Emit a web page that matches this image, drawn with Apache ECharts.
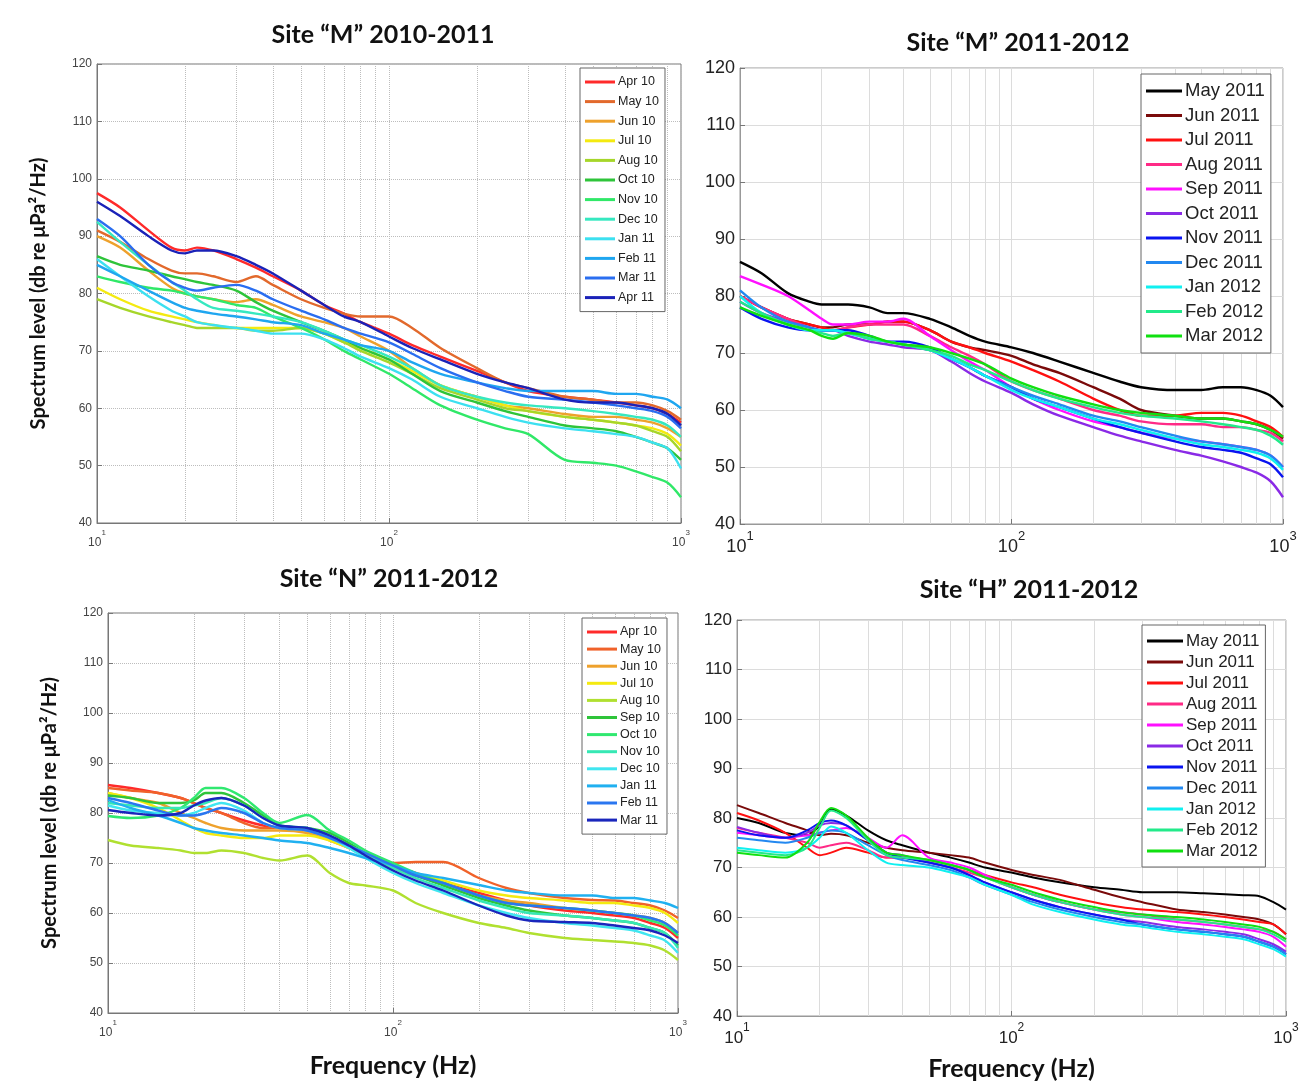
<!DOCTYPE html>
<html lang="en">
<head>
  <meta charset="UTF-8">
  <title>Spectrum levels by site</title>
  <style>
    html, body { margin: 0; padding: 0; background: #fff; }
    #myEcharts { width: 1311px; height: 1086px; }
  </style>
  <script src="https://cdn.jsdelivr.net/npm/echarts@6/dist/echarts.min.js"></script>
</head>
<body>
<div id="myEcharts"></div>

<script>
  // shared frequency grid (Hz) and y ticks
  var FREQ = [10, 12, 15, 18, 20, 22, 25, 30, 35, 40, 50, 60, 70, 80, 100, 120, 150, 200, 250, 300, 400, 500, 600, 700, 800, 900, 1000];
  var MINOR_FREQ = [20, 30, 40, 50, 60, 70, 80, 90, 200, 300, 400, 500, 600, 700, 800, 900];
  var Y_MIN = 40, Y_MAX = 120, Y_STEP = 10;

  // ---- Site "M" 2010-2011 ----
  var m1Names = ['Apr 10', 'May 10', 'Jun 10', 'Jul 10', 'Aug 10', 'Oct 10', 'Nov 10', 'Dec 10', 'Jan 11', 'Feb 11', 'Mar 11', 'Apr 11'];
  var m1Colors = ['#ff2a2a', '#e2692c', '#eea12c', '#f4ea10', '#a6d62a', '#2ec43a', '#30e868', '#36e8c0', '#3ce0f0', '#1fa6f0', '#2a6ef0', '#1a22b8'];
  var m1_apr10 = [97.5, 95, 91, 88, 87.5, 88, 87.5, 86, 84.5, 83, 80.5, 78, 76.5, 75, 73, 71, 69, 66.5, 64.5, 63, 62, 61.5, 61, 60.5, 60, 59, 57.5];
  var m1_may10 = [91, 89, 86, 84, 83.5, 83.5, 83, 82, 83, 81.5, 79, 77.5, 76.5, 76, 76, 74, 70.5, 67, 64.5, 63.5, 62, 61.5, 61, 61, 60.5, 59.5, 58];
  var m1_jun10 = [90, 88, 84, 81, 80, 79.5, 79, 78.5, 79, 78, 76, 75, 74, 72.5, 70, 67, 64, 62, 60.5, 60, 59, 58.5, 58.5, 58, 57.5, 56.5, 55];
  var m1_jul10 = [81, 79, 77, 76, 75.5, 75, 74.5, 74, 74, 74, 74, 73, 71.5, 70.5, 68.5, 66.5, 64, 62, 60.5, 59.5, 58.5, 58, 57.5, 57, 56.5, 55.5, 53.5];
  var m1_aug10 = [79, 77.5, 76, 75, 74.5, 74, 74, 74, 73.5, 73.5, 74, 73, 71.5, 70, 68, 66, 63.5, 61.5, 60, 59.5, 58.5, 58, 57.5, 57, 56, 55, 52.5];
  var m1_oct10 = [86.5, 85, 84, 83, 82.5, 82, 81.5, 80.5, 78.5, 77, 75, 73.5, 72, 70.5, 68.5, 66, 63, 61, 59.5, 58.5, 57, 56.5, 56, 55, 54, 53, 51];
  var m1_nov10 = [83, 82, 81, 80.5, 80, 79.5, 79, 78, 77.5, 76, 74, 72, 70, 68.5, 66, 63.5, 60.5, 58, 56.5, 55.5, 51, 50.5, 50, 49, 48, 47, 44.5];
  var m1_dec10 = [92.5, 89, 85, 82, 80.5, 79, 77.5, 77, 76.5, 76, 75, 73.5, 72, 71, 69, 67, 64, 62, 61, 60.5, 60, 59.5, 59, 58.5, 58, 57, 55];
  var m1_jan11 = [86, 83, 79.5, 77, 76, 75, 74.5, 74, 73.5, 73, 73, 72, 70.5, 69, 67, 65, 62, 60, 58.5, 57.5, 56.5, 56, 55.5, 55, 54, 53, 49.5];
  var m1_feb11 = [85, 83, 80.5, 78.5, 77.5, 77, 76.5, 76, 75.5, 75, 74.5, 73, 72, 71, 70, 68, 66, 64.5, 63.5, 63, 63, 63, 62.5, 62.5, 62, 61.5, 60];
  var m1_mar11 = [93, 90, 85, 82, 81, 80.5, 81, 81.5, 80.5, 79, 77, 75.5, 74, 73, 71.5, 69.5, 67, 64.5, 63, 62, 61.5, 61, 60.5, 60, 59.5, 58.5, 56.5];
  var m1_apr11 = [96, 93.5, 90, 87.5, 87, 87.5, 87.5, 86.5, 85, 83.5, 80.5, 78, 76, 75, 72.5, 70.5, 68.5, 66, 64.5, 63.5, 61.5, 61, 61, 60.5, 60, 59, 57];
  var m1Values = [m1_apr10, m1_may10, m1_jun10, m1_jul10, m1_aug10, m1_oct10, m1_nov10, m1_dec10, m1_jan11, m1_feb11, m1_mar11, m1_apr11];

  // ---- Site "M" 2011-2012 ----
  var m2Names = ['May 2011', 'Jun 2011', 'Jul 2011', 'Aug 2011', 'Sep 2011', 'Oct 2011', 'Nov 2011', 'Dec 2011', 'Jan 2012', 'Feb 2012', 'Mar 2012'];
  var m2Colors = ['#000000', '#7a0a0a', '#ff1010', '#ff2a86', '#ff10ff', '#8a2ae6', '#0a14f0', '#2288f0', '#10f0f0', '#22ea8a', '#10e010'];
  var m2_may11 = [86, 84, 80.5, 79, 78.5, 78.5, 78.5, 78, 77, 77, 76, 74.5, 73, 72, 71, 70, 68.5, 66.5, 65, 64, 63.5, 63.5, 64, 64, 63.5, 62.5, 60.5];
  var m2_jun11 = [80, 78, 76, 75, 74.5, 74.5, 75, 75, 75.5, 75.5, 74, 72, 71, 70.5, 69.5, 68, 66.5, 64, 62, 60, 59, 58.5, 58.5, 58, 57.5, 56.5, 55];
  var m2_jul11 = [80, 78, 76, 75, 74.5, 74, 74.5, 75, 75.5, 75.5, 74, 72, 71, 70, 68.5, 67, 65, 62, 60, 59, 59, 59.5, 59.5, 59, 58, 57, 55.3];
  var m2_aug11 = [80, 78, 76, 74.5, 74, 74, 74.5, 75, 75, 75, 73, 71, 69.5, 68, 65, 63.5, 62, 60, 59, 58, 57.5, 57.5, 57, 57, 56.5, 56, 54.5];
  var m2_sep11 = [83.5, 82, 80, 77.5, 76, 75, 75, 75.5, 75.5, 76, 73, 70.5, 68.5, 67, 64, 62, 60, 58, 57, 56, 55, 54.5, 54, 53.5, 53, 52, 50];
  var m2_oct11 = [79, 77, 75.5, 74.5, 74, 74, 73, 72, 71.5, 71, 70.5, 68.5, 66.5, 65, 63, 61, 59, 57, 55.5, 54.5, 53, 52, 51, 50, 49, 47.5, 44.7];
  var m2_nov11 = [78, 76, 74.5, 74, 74, 74, 74, 73, 72, 72, 71, 69, 67.5, 66, 64, 62, 60.5, 58.5, 57, 56, 54.5, 53.5, 53, 52.5, 51.5, 50.5, 48.2];
  var m2_dec11 = [81, 78, 75.5, 74.5, 74, 74, 73.5, 72.5, 72, 71.5, 70.5, 69, 67.5, 66, 64, 62.5, 61, 59, 58, 57, 55.5, 54.5, 54, 53.5, 53, 52, 50];
  var m2_jan12 = [80, 77, 75, 74, 74, 74, 73.5, 72.5, 72, 71.5, 70.5, 69, 67.5, 66, 63.5, 62, 60.5, 58.5, 57.5, 56.5, 55, 54, 53.5, 53, 52.5, 51.5, 49.5];
  var m2_feb12 = [79, 77, 75, 74, 73.5, 73, 73.5, 72.5, 72, 71.5, 70.5, 69.5, 68, 67, 65, 63.5, 62, 60.5, 59.5, 59, 58.5, 58, 57.5, 57, 56.5, 55.5, 53.9];
  var m2_mar12 = [78, 76.5, 75, 74, 73, 72.5, 73.5, 73, 72, 71.5, 71, 70, 69, 68, 65.5, 64, 62.5, 61, 60, 59.5, 59, 58.5, 58.5, 58, 57.5, 56.5, 55.3];
  var m2Values = [m2_may11, m2_jun11, m2_jul11, m2_aug11, m2_sep11, m2_oct11, m2_nov11, m2_dec11, m2_jan12, m2_feb12, m2_mar12];

  // ---- Site "N" 2011-2012 ----
  var nNames = ['Apr 10', 'May 10', 'Jun 10', 'Jul 10', 'Aug 10', 'Sep 10', 'Oct 10', 'Nov 10', 'Dec 10', 'Jan 11', 'Feb 11', 'Mar 11'];
  var nColors = ['#ff2a2a', '#f0622a', '#eea12c', '#f4ea10', '#b0e030', '#2ec43a', '#30e870', '#36e8b4', '#40e6f0', '#20b0f0', '#2a76f0', '#1a26bc'];
  var n_apr10 = [85.6, 85, 84, 83, 82, 81, 80, 78.5, 77.5, 77, 76.5, 75, 73, 72, 69.5, 68, 66, 64, 62.5, 61.5, 60.5, 60, 59.5, 59, 58, 57, 55];
  var n_may10 = [85, 84.5, 84, 83, 82, 81, 80, 78, 77, 77, 76.5, 75, 73.5, 72, 70, 70.2, 70.2, 67, 65, 64, 63, 62.6, 62.5, 62, 61.5, 60.5, 59];
  var n_jun10 = [84, 83, 82, 80, 79, 78, 77, 76.5, 76.5, 76.5, 76, 74.5, 73, 71.5, 69, 67.5, 66, 63.5, 62.5, 62, 61, 60.5, 60, 59.5, 59, 58, 56];
  var n_jul10 = [84, 83, 81, 78.5, 77, 76, 75.5, 75, 75, 75.5, 75.5, 74.5, 73, 72, 69.5, 68, 66.5, 64.5, 63.5, 63, 62.5, 62, 62, 61.5, 61, 60, 58];
  var n_aug10 = [74.6, 73.5, 73, 72.5, 72, 72, 72.5, 72, 71, 70.5, 71.5, 68, 66, 65.5, 64.5, 62, 60, 58, 57, 56, 55, 54.6, 54.3, 54, 53.5, 52.5, 50.6];
  var n_sep10 = [83.5, 83, 82, 82, 82.5, 84, 84, 82, 79.5, 77.5, 77, 76, 74, 72, 69.5, 67.5, 65.5, 63, 61.5, 60.5, 59.5, 59, 58.5, 58, 57, 56, 53.5];
  var n_oct10 = [79.4, 79, 79.5, 81, 83, 85, 85, 83, 80, 78, 79.6, 76.5, 74.5, 72.5, 70, 68, 66, 63.5, 62, 61.5, 61, 60.5, 60, 59.5, 58.5, 57.5, 55.5];
  var n_nov10 = [82, 81.5, 81, 81, 81.5, 82, 83, 81.5, 79, 77.5, 77, 75.5, 73.5, 72, 69, 67, 65, 62.5, 61, 60, 59.5, 59, 58.5, 58, 57, 56, 53];
  var n_dec10 = [81.5, 80.5, 80, 79.5, 80, 81, 82, 80.5, 78, 77, 76.5, 75, 73, 71, 68, 66, 64, 61.5, 60, 59, 58, 57.5, 57, 56.5, 55.5, 54.5, 52];
  var n_jan11 = [82.6, 81, 79.5, 78, 77, 76.5, 76, 75.5, 75, 74.5, 74, 73, 72, 71, 69.5, 68, 67, 65.6, 64.5, 64, 63.5, 63.5, 63, 63, 62.5, 62, 61];
  var n_feb11 = [83, 82, 80.5, 79.5, 79.5, 80, 81, 80, 78, 77, 76.5, 75, 73.5, 72, 69.5, 67.5, 66, 63.5, 62, 61.5, 61, 60.5, 60, 59.5, 59, 58, 56];
  var n_mar11 = [80.6, 80, 79.5, 80, 81.5, 82.5, 83, 81.5, 79, 77.5, 77, 75.5, 73.5, 71.5, 68.5, 66.5, 64.5, 61.5, 59.5, 58.5, 58.2, 58, 57.5, 57, 56.5, 55.5, 54];
  var nValues = [n_apr10, n_may10, n_jun10, n_jul10, n_aug10, n_sep10, n_oct10, n_nov10, n_dec10, n_jan11, n_feb11, n_mar11];

  // ---- Site "H" 2011-2012 ----
  var hNames = m2Names;
  var hColors = m2Colors;
  var h_may11 = [80, 79, 77, 76.5, 78.5, 81.8, 80.5, 77.5, 75.5, 74.5, 73, 72, 71, 70, 69, 68, 67, 66, 65.5, 65, 65, 64.8, 64.6, 64.4, 64.2, 63, 61.5];
  var h_jun11 = [82.6, 81, 79, 77.5, 76.5, 76.8, 76.5, 75, 74, 73.5, 73, 72.5, 72, 71, 69.5, 68.5, 67.5, 65.5, 64, 63, 61.5, 61, 60.5, 60, 59.5, 58.5, 56.5];
  var h_jul11 = [81, 79.5, 77, 74, 72.5, 73, 74, 73, 72, 72, 71.5, 70.5, 69.5, 68.5, 67, 66, 64.5, 63, 62, 61.5, 61, 60.5, 60, 59.5, 59, 58.5, 56.5];
  var h_aug11 = [78, 77, 76, 75, 74, 74.5, 75, 73.5, 72, 72, 71, 70, 69, 68, 66, 64.5, 63, 61.5, 61, 60.5, 59.5, 59, 58.5, 58, 57.5, 57, 55.5];
  var h_sep11 = [77, 76.5, 76, 76.5, 77, 77.5, 78, 76, 74, 76.5, 72, 71, 70, 68.5, 66, 64.5, 63, 61.5, 60.5, 60, 59, 58.5, 58, 57.5, 57, 56, 54];
  var h_oct11 = [78.2, 77, 76, 77, 78.5, 79, 78.5, 75.5, 73, 72.5, 71, 70, 68.5, 67, 65, 63.5, 62, 60.5, 59.5, 59, 58, 57.5, 57, 56.5, 55.5, 54.5, 53];
  var h_nov11 = [77.5, 76.5, 76, 77.5, 79, 79.5, 78.5, 75.5, 73, 72, 71, 70, 68.5, 67, 65, 63.5, 62, 60.5, 59.5, 58.5, 57.5, 57, 56.5, 56, 55, 54, 52.5];
  var h_dec11 = [76, 75.5, 75, 76, 77, 77.5, 77, 74.5, 72.5, 71.5, 70.5, 69.5, 68, 66.5, 64.5, 63, 61.5, 60, 59, 58.5, 57.5, 57, 56.5, 56, 55, 54, 52.5];
  var h_jan12 = [74, 73.5, 73, 74, 76, 78.3, 77, 73.5, 71, 70.5, 70, 69, 68, 66.5, 64.5, 62.5, 61, 59.5, 58.5, 58, 57, 56.5, 56, 55.5, 54.5, 53.5, 52];
  var h_feb12 = [73.5, 73, 72.5, 74, 78, 81.5, 80, 75.5, 72.5, 72, 71.5, 70.5, 69.5, 68, 66, 64.5, 63, 61.5, 60.5, 60, 59.5, 59, 58.5, 58, 57.5, 56.5, 55];
  var h_mar12 = [73, 72.5, 72, 75, 79.2, 82, 80.5, 76, 73, 72.5, 71.5, 70.5, 69.5, 68, 66.5, 65, 63.5, 62, 61, 60.5, 60, 59.5, 59, 58.5, 58, 57, 55.5];
  var hValues = [h_may11, h_jun11, h_jul11, h_aug11, h_sep11, h_oct11, h_nov11, h_dec11, h_jan12, h_feb12, h_mar12];

  var FONT = 'Liberation Sans, Arial, sans-serif';
  var BOLD_FONT = 'Lato, Open Sans, sans-serif';

  // panel layout + look
  var panels = [
    { title: 'Site \u201cM\u201d 2010-2011', tx: 378, ty: 17, grid: { left: 97, top: 64, width: 584, height: 459 },
      names: m1Names, colors: m1Colors, values: m1Values, label: 12, lw: 2.4, matlab: true,
      legend: { left: 580, top: 68, font: 12.5, gap: 5.6, icon: 30, lh: 14 }, yName: true, xName: false },
    { title: 'Site \u201cM\u201d 2011-2012', tx: 1013, ty: 25, grid: { left: 740, top: 68, width: 543, height: 456 },
      names: m2Names, colors: m2Colors, values: m2Values, label: 18, lw: 2.4, matlab: false,
      legend: { left: 1141, top: 74, font: 18.5, gap: 4.5, icon: 36, lh: 20 }, yName: false, xName: false },
    { title: 'Site \u201cN\u201d 2011-2012', tx: 384, ty: 561, grid: { left: 108, top: 613, width: 570, height: 400 },
      names: nNames, colors: nColors, values: nValues, label: 12, lw: 2.4, matlab: true,
      legend: { left: 582, top: 618, font: 12.5, gap: 3.1, icon: 30, lh: 14 }, yName: true, xName: true },
    { title: 'Site \u201cH\u201d 2011-2012', tx: 1024, ty: 572, grid: { left: 737, top: 620, width: 549, height: 396 },
      names: hNames, colors: hColors, values: hValues, label: 17, lw: 2, matlab: false,
      legend: { left: 1142, top: 625, font: 17, gap: 3, icon: 36, lh: 18 }, yName: false, xName: true }
  ];

  var option = {
    backgroundColor: '#fff',
    animation: false,
    title: [], grid: [], xAxis: [], yAxis: [], legend: [], series: []
  };

  panels.forEach(function (p, k) {
    var gridColor = p.matlab ? '#bdbdbd' : '#dcdcdc';
    var gridType = p.matlab ? 'dotted' : 'solid';
    var txtColor = p.matlab ? '#444' : '#222';

    option.title.push({
      text: p.title, left: p.tx, top: p.ty, textAlign: 'center',
      textStyle: { fontFamily: BOLD_FONT, fontWeight: 'bold', fontSize: 25, color: '#111' }
    });

    option.grid.push({
      left: p.grid.left, top: p.grid.top, width: p.grid.width, height: p.grid.height,
      show: true, borderColor: p.matlab ? '#777' : '#999', borderWidth: 1, backgroundColor: '#fff'
    });

    option.xAxis.push({
      type: 'log', logBase: 10, min: 10, max: 1000, gridIndex: k,
      name: p.xName ? 'Frequency (Hz)' : '', nameLocation: 'middle', nameGap: 40,
      nameTextStyle: { fontFamily: BOLD_FONT, fontWeight: 'bold', fontSize: 25, color: '#111' },
      axisLine: { lineStyle: { color: p.matlab ? '#777' : '#999' } },
      axisTick: { inside: true, length: 5, lineStyle: { color: '#777' } },
      splitLine: { show: true, lineStyle: { color: gridColor, type: gridType } },
      axisLabel: {
        margin: 6,
        formatter: function (v) { return '{b|10}{s|' + Math.round(Math.log10(v)) + '}'; },
        rich: {
          b: { fontFamily: FONT, fontSize: p.label, color: txtColor, lineHeight: p.label + 8, verticalAlign: 'bottom' },
          s: { fontFamily: FONT, fontSize: Math.round(p.label * 0.7), color: txtColor, verticalAlign: 'top' }
        }
      }
    });

    option.yAxis.push({
      type: 'value', min: Y_MIN, max: Y_MAX, interval: Y_STEP, gridIndex: k,
      name: p.yName ? 'Spectrum level (db re \u03bcPa\u00b2/Hz)' : '', nameLocation: 'middle', nameGap: 48,
      nameTextStyle: { fontFamily: BOLD_FONT, fontWeight: 'bold', fontSize: 20, color: '#111' },
      axisLine: { show: true, lineStyle: { color: p.matlab ? '#777' : '#999' } },
      axisTick: { inside: true, length: 5, lineStyle: { color: '#777' } },
      splitLine: { show: true, lineStyle: { color: gridColor, type: gridType } },
      axisLabel: { fontFamily: FONT, fontSize: p.label, color: txtColor, margin: 5 }
    });

    option.legend.push({
      orient: 'vertical', left: p.legend.left, top: p.legend.top, z: 20,
      backgroundColor: '#fff', borderColor: '#666', borderWidth: 1, borderRadius: 0,
      padding: [7, 6, 7, 5], itemGap: p.legend.gap,
      icon: 'rect', itemWidth: p.legend.icon, itemHeight: 3,
      textStyle: { fontFamily: FONT, fontSize: p.legend.font, color: '#222', lineHeight: p.legend.lh, padding: [0, 0, 0, -2] },
      data: p.names.map(function (n, i) { return { name: n, itemStyle: { color: p.colors[i] } }; })
    });

    p.values.forEach(function (vals, i) {
      var s = {
        name: p.names[i], type: 'line', xAxisIndex: k, yAxisIndex: k,
        showSymbol: false, smooth: 0.3, silent: true,
        lineStyle: { color: p.colors[i], width: p.lw },
        itemStyle: { color: p.colors[i] },
        data: FREQ.map(function (f, j) { return [f, vals[j]]; })
      };
      if (i === 0) {
        // minor log grid lines at 20..90 and 200..900
        s.markLine = {
          silent: true, symbol: 'none', label: { show: false }, z: 1,
          lineStyle: { color: gridColor, type: gridType, width: 1 },
          emphasis: { disabled: true },
          data: MINOR_FREQ.map(function (f) { return { xAxis: f }; })
        };
      }
      option.series.push(s);
    });
  });

  var myChart = echarts.init(document.getElementById('myEcharts'));
  myChart.setOption(option);
</script>
</body>
</html>
